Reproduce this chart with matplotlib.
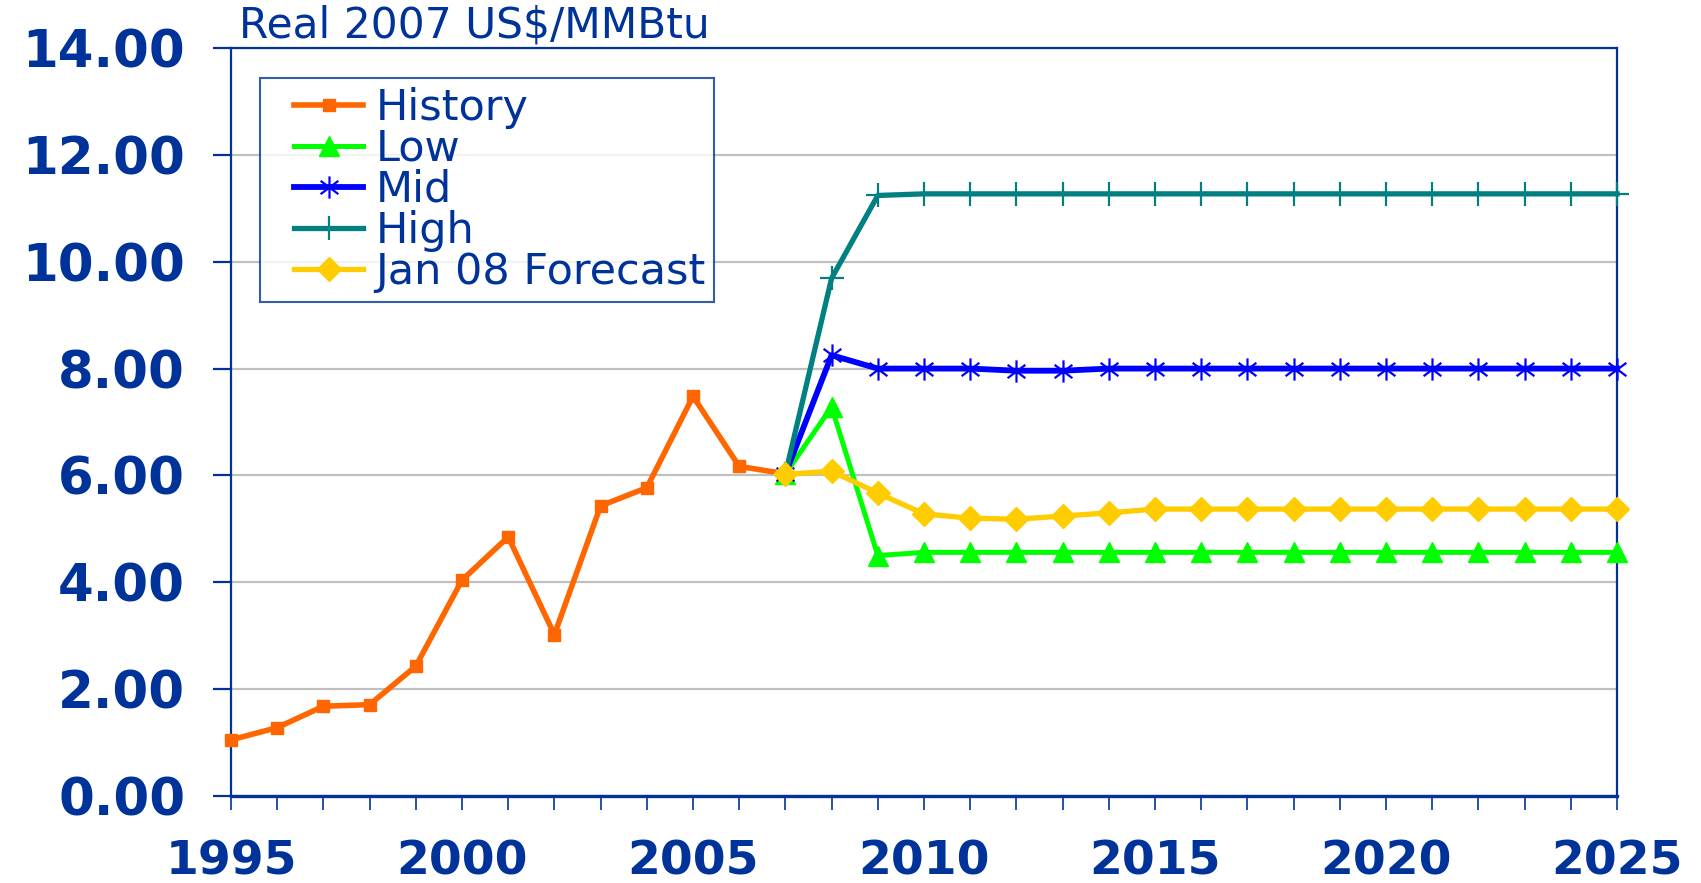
import matplotlib
matplotlib.use("Agg")
import matplotlib.pyplot as plt
from matplotlib.path import Path
from matplotlib.legend_handler import HandlerLine2D
from matplotlib.lines import Line2D

# ---- data ----
hist_years = list(range(1995, 2008))
history = [1.05, 1.28, 1.68, 1.71, 2.43, 4.04, 4.85, 3.02, 5.43, 5.77, 7.48, 6.17, 6.03]

fc_years = list(range(2007, 2026))
low = [6.03, 7.28, 4.50] + [4.56] * 16
mid = [6.03, 8.25, 8.00, 8.00, 8.00, 7.96, 7.96] + [8.00] * 12
high = [6.03, 9.69, 11.24] + [11.27] * 16
jan08 = [6.02, 6.08, 5.67, 5.28, 5.20, 5.18, 5.24, 5.30] + [5.37] * 11

labels = ["History", "Low", "Mid", "High", "Jan 08 Forecast"]
title = "Real 2007 US$/MMBtu"
x_ticks = [1995, 2000, 2005, 2010, 2015, 2020, 2025]
y_ticks = [0, 2, 4, 6, 8, 10, 12, 14]

navy = "#003399"

# asterisk marker (Excel "star")
star = Path([(0, -1), (0, 1), (-0.8, -0.6), (0.8, 0.6), (-0.8, 0.6), (0.8, -0.6)],
            [Path.MOVETO, Path.LINETO, Path.MOVETO, Path.LINETO, Path.MOVETO, Path.LINETO])

fig = plt.figure(figsize=(17.01, 8.83), dpi=100)
ax = fig.add_axes([231 / 1701, 1 - 796 / 883, (1617 - 231) / 1701, (796 - 48) / 883])

ax.plot(hist_years, history, color="#FF6600", lw=4.0, marker="s", ms=9,
        label=labels[0], clip_on=False, zorder=3)
ax.plot(fc_years, low, color="#00FF00", lw=3.6, marker="^", ms=15,
        label=labels[1], clip_on=False, zorder=4)
ax.plot(fc_years, mid, color="#0000FF", lw=4.2, marker=star, ms=16, mew=1.6,
        label=labels[2], clip_on=False, zorder=4)
ax.plot(fc_years, high, color="#008080", lw=3.8, marker="+", ms=17, mew=1.6,
        label=labels[3], clip_on=False, zorder=4)
ax.plot(fc_years, jan08, color="#FFCC00", lw=3.8, marker="D", ms=12,
        label=labels[4], clip_on=False, zorder=5)

ax.set_xlim(1995, 2025)
ax.set_ylim(0, 14)
ax.set_xticks(range(1995, 2026), minor=True)
ax.set_xticks(x_ticks)
ax.set_xticklabels([str(v) for v in x_ticks])
ax.set_yticks(y_ticks)
ax.set_yticklabels([f"{v:.2f}" for v in y_ticks])

ax.yaxis.grid(True, color="#C0C0C0", lw=1.6)
ax.set_axisbelow(True)

for s in ax.spines.values():
    s.set_color(navy)
    s.set_linewidth(1.6)
ax.spines["bottom"].set_linewidth(2.4)

ax.tick_params(axis="y", direction="out", length=13, width=1.6, color=navy,
               labelcolor=navy, labelsize=37, pad=20)
ax.tick_params(axis="x", which="both", direction="out", length=10, width=1.2,
               color=navy, labelcolor=navy, labelsize=34, pad=21)
for t in ax.get_xticklabels() + ax.get_yticklabels():
    t.set_fontweight("bold")

fig.text(239 / 1701, 1 - 37 / 883, title, color=navy, fontsize=30.5, va="baseline", ha="left")

hm = {Line2D: HandlerLine2D(xpad=0.6)}
leg = ax.legend(loc="upper left", bbox_to_anchor=((260 - 231) / 1386, (796 - 78) / 748),
                borderaxespad=0, fancybox=False, frameon=True, fontsize=31,
                handlelength=2.2, handletextpad=0.28, labelspacing=-0.02,
                borderpad=0.2, labelcolor=navy, handler_map=hm)
leg.get_frame().set_edgecolor(navy)
leg.get_frame().set_linewidth(1.5)

fig.savefig("out.png", dpi=100)
